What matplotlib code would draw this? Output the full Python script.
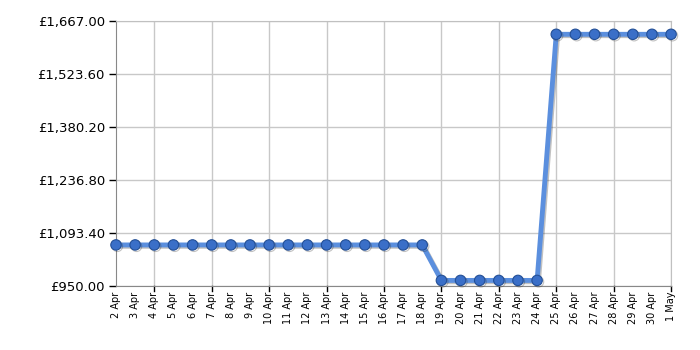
import matplotlib.pyplot as plt
import matplotlib.patheffects as pe

# Datos del gráfico
dates = ['2 Apr', '3 Apr', '4 Apr', '5 Apr', '6 Apr', '7 Apr', '8 Apr', '9 Apr', '10 Apr',
         '11 Apr', '12 Apr', '13 Apr', '14 Apr', '15 Apr', '16 Apr', '17 Apr', '18 Apr',
         '19 Apr', '20 Apr', '21 Apr', '22 Apr', '23 Apr', '24 Apr', '25 Apr', '26 Apr',
         '27 Apr', '28 Apr', '29 Apr', '30 Apr', '1 May']
prices = [1061.0] * 17 + [965.0] * 6 + [1631.0] * 7
y_ticks = [950.00, 1093.40, 1236.80, 1380.20, 1523.60, 1667.00]

fig = plt.figure(figsize=(7, 3.5), dpi=100)
ax = fig.add_axes([0.1657, 0.183, 0.793, 0.757])

x = list(range(len(dates)))
ax.plot(x, prices, color='#5b8fde', linewidth=3.5, marker='o', markersize=7.5,
        markerfacecolor='#3a6fc8', markeredgecolor='#234f96', markeredgewidth=0.8,
        path_effects=[pe.SimpleLineShadow(offset=(1, -1), shadow_color='#333333', alpha=0.3),
                      pe.Normal()],
        zorder=3, clip_on=False)

ax.set_xlim(0, len(dates) - 1)
ax.set_ylim(y_ticks[0], y_ticks[-1])

# Etiquetas del eje x
ax.set_xticks(x)
ax.set_xticklabels(dates, rotation=90, fontsize=7)
ax.set_yticks(y_ticks)
ax.set_yticklabels(['£{:,.2f}'.format(v) for v in y_ticks], fontsize=9.5)

# Cuadrícula cada tres días
for i in range(2, len(dates), 3):
    ax.axvline(i, color='#c8c8c8', linewidth=1, zorder=1)
for v in y_ticks:
    ax.axhline(v, color='#c8c8c8', linewidth=1, zorder=1)

ax.tick_params(axis='x', length=0, pad=4)
ax.tick_params(axis='y', length=5, width=1, color='black', pad=3)
for i in range(2, len(dates), 3):
    ax.plot([i, i], [0, -0.018], transform=ax.get_xaxis_transform(), color='black',
            linewidth=1, clip_on=False)

for s in ['top', 'right']:
    ax.spines[s].set_color('#c0c0c0')
for s in ['left', 'bottom']:
    ax.spines[s].set_color('#888888')

fig.savefig('out.png', dpi=100)
